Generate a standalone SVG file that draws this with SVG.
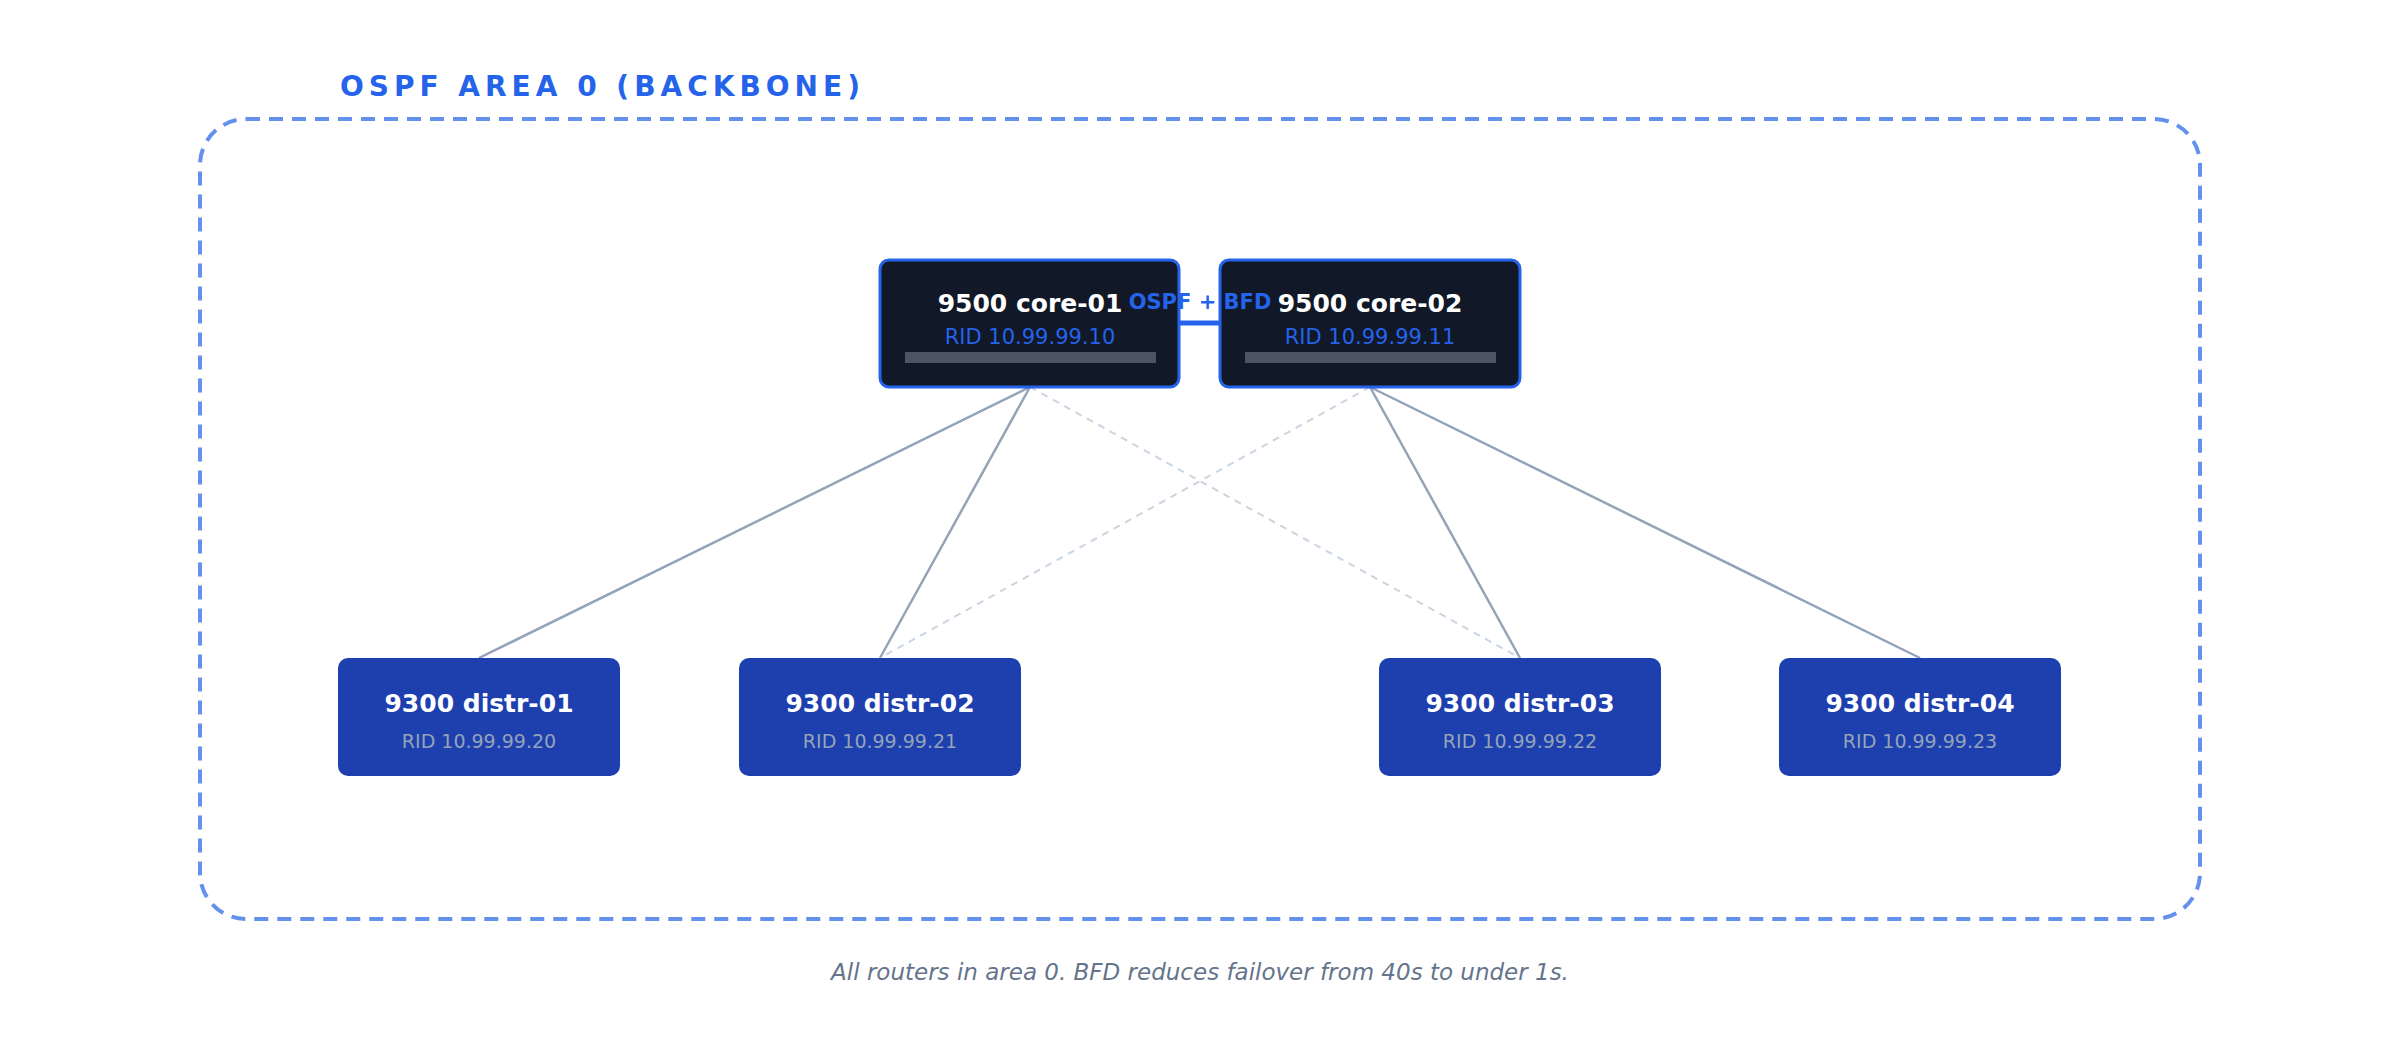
<svg xmlns="http://www.w3.org/2000/svg" width="2400" height="1040" viewBox="0 0 2400 1040">
<style>
text{font-family:"DejaVu Sans","Noto Sans",sans-serif;text-anchor:middle}
.core{fill:#111827;stroke:#2563eb;stroke-width:3}
.dist{fill:#1e40af}
.t{fill:#fff;font-weight:bold;font-size:25px}
.rc{fill:#2563eb;font-size:21px}
.rd{fill:#94a3b8;font-size:19px}
.bar{fill:#4b5563}
.s{stroke:#94a3b8;stroke-width:2.5;fill:none}
.d{stroke:#cbd5e1;stroke-width:2;stroke-dasharray:7 6;fill:none}
</style>
<rect width="2400" height="1040" fill="#fff"/>
<g id="area">
<rect x="200" y="119" width="2000" height="800" rx="46" fill="none" stroke="#6490ee" stroke-width="4" stroke-dasharray="14 9"/>
<text x="340" y="96" style="text-anchor:start;font-size:28px;font-weight:bold;fill:#2563eb;letter-spacing:5px">OSPF AREA 0 (BACKBONE)</text>
</g>
<g id="connectors">
<line class="s" x1="1030" y1="387" x2="479" y2="658"/>
<line class="s" x1="1030" y1="387" x2="880" y2="658"/>
<line class="d" x1="1030" y1="387" x2="1520" y2="658"/>
<line class="d" x1="1370" y1="387" x2="880" y2="658"/>
<line class="s" x1="1370" y1="387" x2="1520" y2="658"/>
<line class="s" x1="1370" y1="387" x2="1920" y2="658"/>
<line x1="1179" y1="323" x2="1220" y2="323" stroke="#2563eb" stroke-width="5"/>
</g>
<g id="core-01">
<rect class="core" x="880" y="260" width="299" height="127" rx="9"/>
<text class="t" x="1030" y="312">9500 core-01</text>
<text class="rc" x="1030" y="344">RID 10.99.99.10</text>
<rect class="bar" x="905" y="352" width="251" height="11"/>
</g>
<g id="core-02">
<rect class="core" x="1220" y="260" width="300" height="127" rx="9"/>
<text class="t" x="1370" y="312">9500 core-02</text>
<text class="rc" x="1370" y="344">RID 10.99.99.11</text>
<rect class="bar" x="1245" y="352" width="251" height="11"/>
</g>
<text x="1200" y="309" style="font-size:21px;font-weight:bold;fill:#2563eb">OSPF + BFD</text>
<g id="distr-01"><rect class="dist" x="338" y="658" width="282" height="118" rx="10"/><text class="t" x="479" y="712">9300 distr-01</text><text class="rd" x="479" y="748">RID 10.99.99.20</text></g>
<g id="distr-02"><rect class="dist" x="739" y="658" width="282" height="118" rx="10"/><text class="t" x="880" y="712">9300 distr-02</text><text class="rd" x="880" y="748">RID 10.99.99.21</text></g>
<g id="distr-03"><rect class="dist" x="1379" y="658" width="282" height="118" rx="10"/><text class="t" x="1520" y="712">9300 distr-03</text><text class="rd" x="1520" y="748">RID 10.99.99.22</text></g>
<g id="distr-04"><rect class="dist" x="1779" y="658" width="282" height="118" rx="10"/><text class="t" x="1920" y="712">9300 distr-04</text><text class="rd" x="1920" y="748">RID 10.99.99.23</text></g>
<text x="1200" y="980" style="font-size:23px;font-style:italic;fill:#64748b">All routers in area 0. BFD reduces failover from 40s to under 1s.</text>
</svg>
